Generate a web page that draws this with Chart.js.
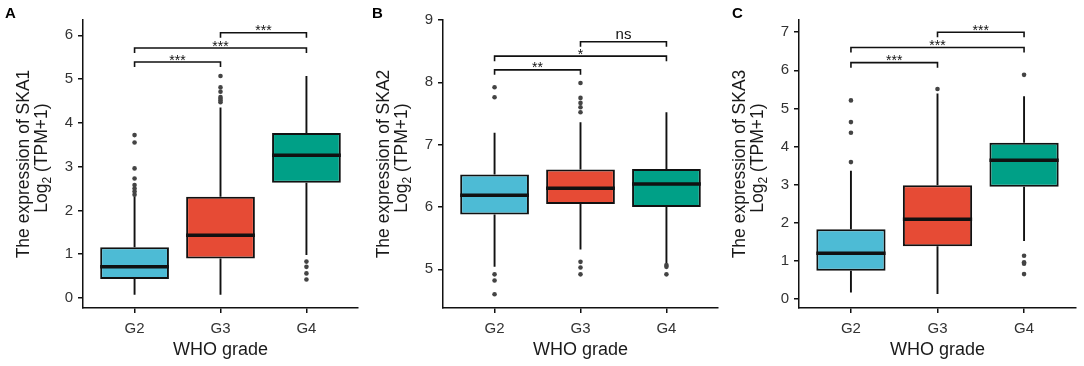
<!DOCTYPE html>
<html>
<head>
<meta charset="utf-8">
<script src="https://cdn.jsdelivr.net/npm/chart.js@4.4.1/dist/chart.umd.min.js"></script>
<style>
  body { margin: 0; background: #fff; }
  canvas.panel { position: absolute; top: 0; }
</style>
</head>
<body>
<canvas id="panelA" class="panel" style="left:0px" width="362" height="366"></canvas>
<canvas id="panelB" class="panel" style="left:360px" width="362" height="366"></canvas>
<canvas id="panelC" class="panel" style="left:720px" width="364" height="366"></canvas>
<script>
var grades = ['G2', 'G3', 'G4'];
var boxColors = ['#4DBBD5', '#E64B35', '#00A087'];
var pairs = [[0, 1], [0, 2], [1, 2]];

// SKA1
var ska1Low = [0.07, 0.07, 0.98];
var ska1Q1 = [0.43, 0.90, 2.63];
var ska1Med = [0.71, 1.43, 3.26];
var ska1Q3 = [1.16, 2.31, 3.77];
var ska1High = [2.31, 4.35, 5.07];
var ska1Out = [
  [2.36, 2.43, 2.50, 2.58, 2.73, 2.96, 3.55, 3.72],
  [4.47, 4.51, 4.55, 4.59, 4.71, 4.81, 5.07],
  [0.83, 0.71, 0.56, 0.42]
];
var ska1Ticks = [0, 1, 2, 3, 4, 5, 6];
var ska1BracketY = [5.39, 5.71, 6.06];
var ska1Signif = ['***', '***', '***'];

// SKA2
var ska2Low = [5.04, 5.32, 5.10];
var ska2Q1 = [5.88, 6.05, 6.00];
var ska2Med = [6.19, 6.30, 6.37];
var ska2Q3 = [6.52, 6.60, 6.61];
var ska2High = [7.19, 7.36, 7.52];
var ska2Out = [
  [7.92, 7.76, 4.92, 4.82, 4.60],
  [7.99, 7.75, 7.67, 7.60, 7.52, 5.12, 5.03, 4.92],
  [5.07, 5.04, 4.92]
];
var ska2Ticks = [5, 6, 7, 8, 9];
var ska2BracketY = [8.20, 8.42, 8.65];
var ska2Signif = ['**', '*', 'ns'];

// SKA3
var ska3Low = [0.17, 0.13, 1.52];
var ska3Q1 = [0.74, 1.38, 2.94];
var ska3Med = [1.20, 2.09, 3.64];
var ska3Q3 = [1.83, 2.98, 4.10];
var ska3High = [3.36, 5.39, 5.32];
var ska3Out = [
  [3.59, 4.36, 4.64, 5.21],
  [5.51],
  [5.88, 1.13, 0.96, 0.92, 0.65]
];
var ska3Ticks = [0, 1, 2, 3, 4, 5, 6, 7];
var ska3BracketY = [6.20, 6.60, 7.00];
var ska3Signif = ['***', '***', '***'];

var FONT = 'Liberation Sans, Arial, sans-serif';

// whiskers, medians, brackets, titles
var boxExtras = {
  id: 'boxExtras',
  afterDatasetsDraw: function (chart) {
    var p = chart.options.plugins.boxExtras;
    var ys = chart.scales.y;
    var ctx = chart.ctx;
    var bars = chart.getDatasetMeta(0).data;
    ctx.save();
    ctx.strokeStyle = '#111';
    bars.forEach(function (el, i) {
      ctx.lineWidth = 1.9;
      ctx.beginPath();
      ctx.moveTo(el.x, ys.getPixelForValue(p.q3[i]));
      ctx.lineTo(el.x, ys.getPixelForValue(p.high[i]));
      ctx.moveTo(el.x, ys.getPixelForValue(p.q1[i]));
      ctx.lineTo(el.x, ys.getPixelForValue(p.low[i]));
      ctx.stroke();
      ctx.lineWidth = 3.5;
      ctx.beginPath();
      var ym = ys.getPixelForValue(p.med[i]);
      ctx.moveTo(el.x - el.width / 2, ym);
      ctx.lineTo(el.x + el.width / 2, ym);
      ctx.stroke();
    });
    ctx.restore();
  },
  afterDraw: function (chart) {
    var p = chart.options.plugins.boxExtras;
    var xs = chart.scales.x, ys = chart.scales.y, ctx = chart.ctx;
    var area = chart.chartArea;
    ctx.save();
    // significance brackets
    ctx.strokeStyle = '#111';
    ctx.lineWidth = 1.6;
    ctx.fillStyle = '#111';
    ctx.textAlign = 'center';
    pairs.forEach(function (pr, k) {
      var x1 = xs.getPixelForValue(pr[0]);
      var x2 = xs.getPixelForValue(pr[1]);
      var yb = ys.getPixelForValue(p.bracketY[k]);
      ctx.beginPath();
      ctx.moveTo(x1, yb + 5);
      ctx.lineTo(x1, yb);
      ctx.lineTo(x2, yb);
      ctx.lineTo(x2, yb + 5);
      ctx.stroke();
      var lab = p.signif[k];
      var star = lab.indexOf('*') >= 0;
      ctx.font = (star ? '14px ' : '15px ') + FONT;
      ctx.textBaseline = 'alphabetic';
      ctx.fillText(lab, (x1 + x2) / 2, yb + (star ? 2.5 : -3));
    });

    // y title (two lines, subscript)
    var cy = (area.top + area.bottom) / 2;
    ctx.fillStyle = '#1a1a1a';
    ctx.save();
    ctx.translate(area.left - 59, cy);
    ctx.rotate(-Math.PI / 2);
    ctx.font = '17.5px ' + FONT;
    ctx.textAlign = 'center';
    ctx.textBaseline = 'middle';
    ctx.fillText(p.title, 0, 0);
    ctx.restore();

    ctx.save();
    ctx.translate(area.left - 42, cy - 6);
    ctx.rotate(-Math.PI / 2);
    ctx.textAlign = 'left';
    ctx.textBaseline = 'alphabetic';
    var big = '17.5px ' + FONT, small = '12px ' + FONT;
    ctx.font = big;
    var w1 = ctx.measureText('Log').width;
    var w3 = ctx.measureText(' (TPM+1)').width;
    ctx.font = small;
    var w2 = ctx.measureText('2').width;
    var x0 = -(w1 + w2 + w3) / 2;
    ctx.font = big;
    ctx.fillText('Log', x0, 6);
    ctx.font = small;
    ctx.fillText('2', x0 + w1, 10);
    ctx.font = big;
    ctx.fillText(' (TPM+1)', x0 + w1 + w2, 6);
    ctx.restore();

    // panel letter
    ctx.font = 'bold 15px ' + FONT;
    ctx.fillStyle = '#000';
    ctx.textAlign = 'left';
    ctx.textBaseline = 'top';
    ctx.fillText(p.letter, p.letterX, 6);
    ctx.restore();
  }
};

function makePanel(id, cfg) {
  var outliers = [];
  cfg.out.forEach(function (list, i) {
    list.forEach(function (v) { outliers.push({ x: i, y: v }); });
  });
  var canvas = document.getElementById(id);
  return new Chart(canvas, {
    type: 'bar',
    data: {
      datasets: [{
        type: 'bar',
        data: grades.map(function (g, i) { return { x: i, y: [cfg.q1[i], cfg.q3[i]] }; }),
        backgroundColor: boxColors,
        borderColor: '#111',
        borderWidth: 2,
        borderSkipped: false,
        barPercentage: 0.8,
        categoryPercentage: 1
      }, {
        type: 'scatter',
        data: outliers,
        pointRadius: 2.3,
        pointBackgroundColor: '#444',
        pointBorderWidth: 0
      }]
    },
    options: {
      responsive: false,
      animation: false,
      devicePixelRatio: 1,
      layout: { padding: { top: 20, right: cfg.padRight, left: 0, bottom: 0 } },
      plugins: {
        legend: { display: false },
        tooltip: { enabled: false },
        boxExtras: {
          low: cfg.low, q1: cfg.q1, med: cfg.med, q3: cfg.q3, high: cfg.high,
          bracketY: cfg.bracketY, signif: cfg.signif,
          title: cfg.title, letter: cfg.letter, letterX: cfg.letterX
        }
      },
      scales: {
        x: {
          type: 'linear',
          min: -0.6,
          max: 2.6,
          offset: false,
          border: { display: true, color: '#111', width: 1.5 },
          grid: { display: true, offset: false, drawOnChartArea: false, drawTicks: true, tickLength: 5, color: '#111', lineWidth: 1.5 },
          ticks: {
            color: '#333',
            font: { family: FONT, size: 15 },
            padding: 7,
            autoSkip: false,
            maxRotation: 0,
            callback: function (v) { return grades[v]; }
          },
          title: {
            display: true,
            text: 'WHO grade',
            color: '#1a1a1a',
            font: { family: FONT, size: 18 },
            padding: { top: 0, bottom: 5 }
          },
          afterBuildTicks: function (s) { s.ticks = grades.map(function (g, i) { return { value: i }; }); },
          afterFit: function (s) { s.height = 58; }
        },
        y: {
          type: 'linear',
          min: cfg.yMin,
          max: cfg.yMax,
          border: { display: true, color: '#111', width: 1.5 },
          grid: { display: true, drawOnChartArea: false, drawTicks: true, tickLength: 5, color: '#111', lineWidth: 1.5 },
          ticks: { color: '#333', font: { family: FONT, size: 15 }, padding: 5 },
          afterBuildTicks: function (s) { s.ticks = cfg.ticks.map(function (v) { return { value: v }; }); },
          afterFit: function (s) { s.width = cfg.left; }
        }
      }
    },
    plugins: [boxExtras]
  });
}

makePanel('panelA', {
  low: ska1Low, q1: ska1Q1, med: ska1Med, q3: ska1Q3, high: ska1High, out: ska1Out,
  ticks: ska1Ticks, yMin: -0.23, yMax: 6.35, bracketY: ska1BracketY, signif: ska1Signif,
  title: 'The expression of SKA1', letter: 'A', letterX: 5, left: 83, padRight: 1
});
makePanel('panelB', {
  low: ska2Low, q1: ska2Q1, med: ska2Med, q3: ska2Q3, high: ska2High, out: ska2Out,
  ticks: ska2Ticks, yMin: 4.38, yMax: 9.0, bracketY: ska2BracketY, signif: ska2Signif,
  title: 'The expression of SKA2', letter: 'B', letterX: 12, left: 83, padRight: 3
});
makePanel('panelC', {
  low: ska3Low, q1: ska3Q1, med: ska3Med, q3: ska3Q3, high: ska3High, out: ska3Out,
  ticks: ska3Ticks, yMin: -0.24, yMax: 7.32, bracketY: ska3BracketY, signif: ska3Signif,
  title: 'The expression of SKA3', letter: 'C', letterX: 12, left: 79, padRight: 8
});
</script>
</body>
</html>
